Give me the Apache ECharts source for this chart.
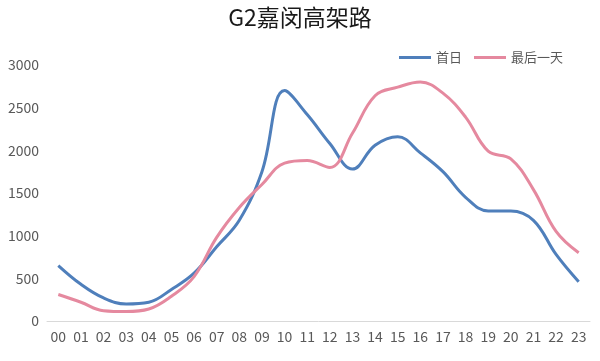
<!DOCTYPE html>
<html><head><meta charset="utf-8">
<script src="https://cdn.jsdelivr.net/npm/echarts@6/dist/echarts.min.js"></script>
<style>html,body{margin:0;padding:0;background:#fff}#c{width:600px;height:361px}</style>
</head><body><div id="c"></div>
<script>
const hours = ['00','01','02','03','04','05','06','07','08','09','10','11','12','13','14','15','16','17','18','19','20','21','22','23'];
const firstDay = [650,430,270,200,220,370,560,870,1180,1750,2700,2420,2080,1780,2060,2160,1970,1750,1450,1290,1290,1180,780,460];
const lastDay = [310,220,120,110,140,290,520,980,1330,1600,1850,1880,1800,2200,2640,2740,2800,2670,2390,1990,1900,1540,1050,800];
const yTicks = [0,500,1000,1500,2000,2500,3000];
const font = '"Noto Sans CJK SC", "Open Sans", sans-serif';
const chart = echarts.init(document.getElementById('c'));
chart.setOption({
  animation:false,
  title:{text:'G2嘉闵高架路',left:'center',top:1,textStyle:{fontFamily:font,fontSize:23,fontWeight:'normal',color:'#1a1a1a'}},
  legend:{right:32,top:46,itemWidth:32,itemHeight:3,itemGap:12,icon:'rect',
    textStyle:{fontFamily:font,fontSize:13,color:'#595959'},
    data:['首日','最后一天']},
  grid:{left:47,right:10,top:65,bottom:40},
  xAxis:{type:'category',data:hours,boundaryGap:true,
    axisLine:{lineStyle:{color:'#d9d9d9'}},axisTick:{show:false},
    axisLabel:{color:'#595959',fontFamily:font,fontSize:14,margin:9,interval:0}},
  yAxis:{type:'value',min:yTicks[0],max:yTicks[yTicks.length-1],interval:500,
    splitLine:{show:false},axisLine:{show:false},axisTick:{show:false},
    axisLabel:{color:'#595959',fontFamily:font,fontSize:14,margin:8,formatter:v=>String(v)}},
  series:[
    {name:'首日',type:'line',data:firstDay,smooth:0.4,symbol:'none',lineStyle:{color:'#4f7fbb',width:3},itemStyle:{color:'#4f7fbb'}},
    {name:'最后一天',type:'line',data:lastDay,smooth:0.4,symbol:'none',lineStyle:{color:'#e5899f',width:3},itemStyle:{color:'#e5899f'}}
  ]
});
</script></body></html>
